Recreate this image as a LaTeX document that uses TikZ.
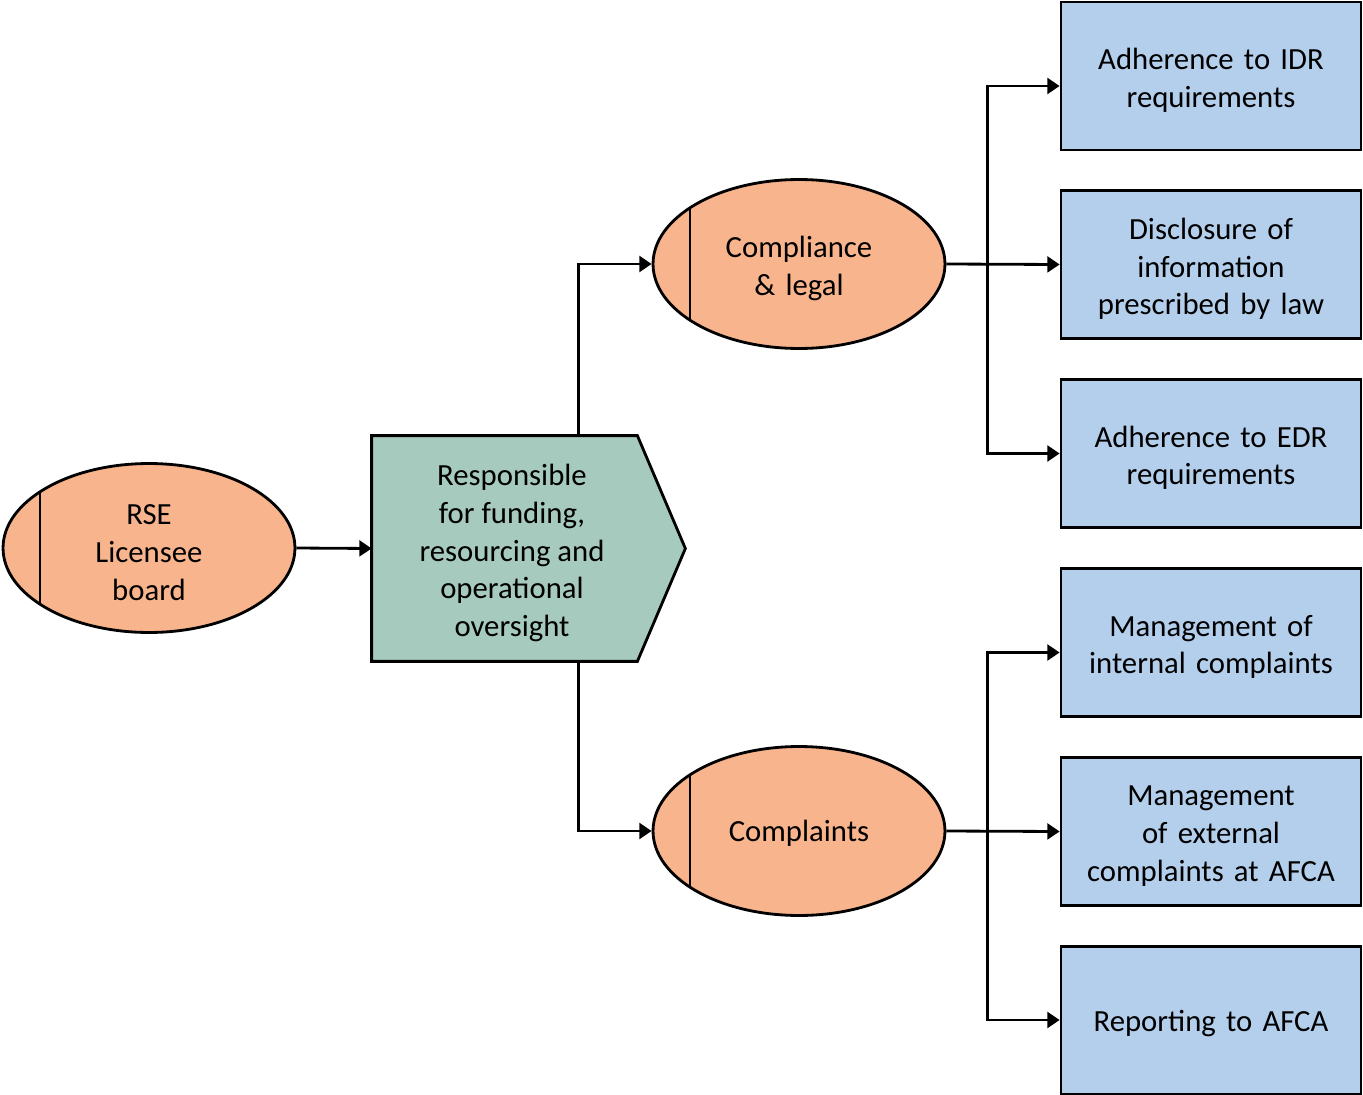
\documentclass[tikz,border=0pt]{standalone}
\usepackage{fontspec}
\setmainfont{Carlito}
\usetikzlibrary{positioning,calc,arrows.meta,shapes.geometric}
\definecolor{oval}{HTML}{F8B48C}
\definecolor{mint}{HTML}{A6CBBE}
\definecolor{sky}{HTML}{B4CFEC}
\newcommand{\lowertext}{\endgraf\kern-5pt}
\begin{document}
\begin{tikzpicture}[
    x=0.02cm, y=-0.02cm,
    line width=1.6pt,
    font=\fontsize{17.5}{21.5}\selectfont,
    oval node/.style={ellipse, draw, fill=oval, inner sep=0pt, align=center,
                      minimum width=5.84cm, minimum height=3.38cm, text width=3.6cm,
                      execute at end node=\lowertext,
                      path picture={\draw (path picture bounding box.center) ++(-109,-100) -- ++(0,200);}},
    task/.style={draw, fill=sky, inner sep=2pt, align=center,
                 minimum width=6cm, minimum height=2.96cm, text width=5.8cm,
                 execute at end node=\lowertext},
    conn/.style={-{Triangle[length=7pt,width=9pt]}}
]
\useasboundingbox (0,0) rectangle (1363,1095);

% Board and the oversight block
\node[oval node] (board) at (149,548) {RSE\\Licensee\\board};
\node[minimum width=5.26cm, minimum height=4.46cm, inner sep=0pt, align=center] (resp) at (504.5,548.5) {};
\fill[mint] (resp.north west) -- (resp.north east) -- ($(resp.east)+(48,0)$)
    -- (resp.south east) -- (resp.south west) -- cycle;
\draw[line join=miter] (resp.north west) -- (resp.north east) -- ($(resp.east)+(48,0)$)
    -- (resp.south east) -- (resp.south west) -- cycle;
\node[align=center] (resptext) at (512,553) {Responsible\\for funding,\\resourcing and\\operational\\oversight};

% Two areas
\node[oval node] (comp) at (799,264) {Compliance\\\& legal};
\node[oval node] (cplt) at (799,831) {Complaints};

% Tasks
\node[task] (idr) at (1211,76) {Adherence to IDR\\requirements};
\node[task] (disc) at (1211,264.5) {Disclosure of\\information\\prescribed by law};
\node[task] (edr) at (1211,453.5) {Adherence to EDR\\requirements};
\node[task] (intc) at (1211,642.5) {Management of\\internal complaints};
\node[task] (extc) at (1211,831.5) {Management\\of external\\complaints at AFCA};
\node[task] (rep) at (1211,1020.5) {Reporting to AFCA};

% Connectors
\draw[conn] (board.east) -- (resp.west);
\draw[conn] ($(resp.north east)+(-59,0)$) |- (comp.west);
\draw[conn] ($(resp.south east)+(-59,0)$) |- (cplt.west);

\coordinate (cj) at ($(comp.east)+(41,0)$);
\coordinate (kj) at ($(cplt.east)+(41,0)$);
\draw[conn] (comp.east) -- (disc.west);
\draw[conn] (cj) |- ($(idr.west)+(0,10)$);
\draw[conn] (cj) |- (edr.west);
\draw[conn] (cplt.east) -- (extc.west);
\draw[conn] (kj) |- ($(intc.west)+(0,10)$);
\draw[conn] (kj) |- ($(rep.west)+(0,-0.5)$);
\end{tikzpicture}
\end{document}
